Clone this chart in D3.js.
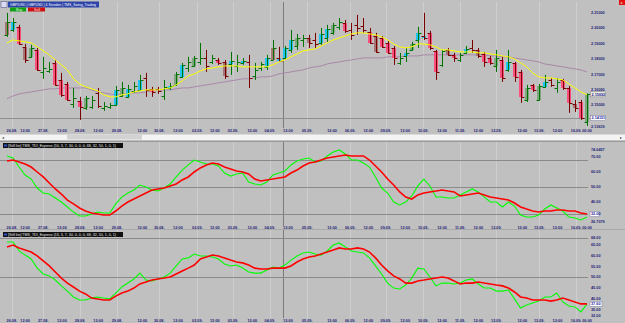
<!DOCTYPE html>
<html>
<head>
<meta charset="utf-8">
<script src="https://cdnjs.cloudflare.com/ajax/libs/d3/7.8.5/d3.min.js"></script>
<style>
  body { margin: 0; background: #c0c0c0; }
  #chartSvg { display: block; }
  text { font-family: "Liberation Sans", Arial, sans-serif; }
</style>
</head>
<body>
<svg id="chartSvg" width="625" height="323"></svg>
<script>
      // 4h bars, GBPUSD
      var opens = [2.1956,2.1988,2.2008,2.1878,2.1813,2.1858,2.1715,2.1722,2.1774,2.1663,
                   2.1637,2.1507,2.1527,2.1481,2.1488,2.1579,2.1481,2.1488,2.1501,2.1559,
                   2.1553,2.1592,2.1598,2.1676,2.1605,2.1605,2.1559,2.1611,2.1631,2.1683,
                   2.1741,2.1754,2.1780,2.1806,2.1780,2.1793,2.1780,2.1767,2.1754,2.1774,
                   2.1780,2.1689,2.1741,2.1748,2.1793,2.1806,2.1806,2.1858,2.1884,2.1923,
                   2.1936,2.1923,2.1904,2.1936,2.1969,2.2008,2.2034,2.1988,2.2021,2.2014,
                   2.1975,2.1949,2.1936,2.1904,2.1871,2.1774,2.1819,2.1858,2.1923,2.1949,
                   2.1969,2.1852,2.1761,2.1858,2.1826,2.1793,2.1839,2.1871,2.1858,2.1832,
                   2.1806,2.1754,2.1793,2.1728,2.1774,2.1715,2.1533,2.1631,2.1533,2.1618,
                   2.1663,2.1611,2.1663,2.1611,2.1507,2.1520,2.1390];
      var highs = [2.2099,2.2066,2.2021,2.1897,2.1891,2.1871,2.1813,2.1780,2.1793,2.1709,
                   2.1650,2.1611,2.1553,2.1559,2.1559,2.1611,2.1520,2.1514,2.1624,2.1650,
                   2.1631,2.1650,2.1696,2.1709,2.1618,2.1618,2.1663,2.1644,2.1715,2.1774,
                   2.1813,2.1819,2.1904,2.1858,2.1826,2.1806,2.1793,2.1845,2.1826,2.1806,
                   2.1826,2.1774,2.1780,2.1826,2.1923,2.1878,2.1884,2.1988,2.1962,2.1956,
                   2.1956,2.1969,2.2001,2.2021,2.2034,2.2066,2.2053,2.2034,2.2086,2.2066,
                   2.2001,2.1969,2.1949,2.1917,2.1884,2.1839,2.1871,2.1910,2.2008,2.2099,
                   2.1982,2.1858,2.1858,2.1871,2.1839,2.1839,2.1884,2.1923,2.1871,2.1845,
                   2.1819,2.1858,2.1813,2.1858,2.1780,2.1728,2.1631,2.1637,2.1637,2.1696,
                   2.1676,2.1676,2.1670,2.1624,2.1533,2.1533,2.1575];
      var lows = [2.1943,2.1975,2.1891,2.1774,2.1806,2.1722,2.1670,2.1709,2.1624,2.1553,
                  2.1527,2.1481,2.1403,2.1468,2.1475,2.1481,2.1462,2.1475,2.1494,2.1553,
                  2.1546,2.1579,2.1592,2.1553,2.1553,2.1572,2.1533,2.1598,2.1624,2.1676,
                  2.1715,2.1748,2.1761,2.1715,2.1767,2.1761,2.1670,2.1696,2.1715,2.1761,
                  2.1611,2.1663,2.1722,2.1728,2.1793,2.1780,2.1793,2.1839,2.1858,2.1878,
                  2.1871,2.1871,2.1891,2.1910,2.1956,2.1988,2.1969,2.1923,2.1956,2.1969,
                  2.1897,2.1839,2.1871,2.1832,2.1761,2.1761,2.1780,2.1852,2.1871,2.1923,
                  2.1858,2.1663,2.1748,2.1819,2.1780,2.1780,2.1832,2.1839,2.1806,2.1748,
                  2.1761,2.1715,2.1650,2.1715,2.1650,2.1514,2.1520,2.1585,2.1527,2.1611,
                  2.1618,2.1579,2.1598,2.1449,2.1455,2.1403,2.1364];
      var closes = [2.2040,2.2040,2.1897,2.1793,2.1871,2.1728,2.1741,2.1735,2.1631,2.1566,
                    2.1533,2.1546,2.1488,2.1546,2.1533,2.1494,2.1494,2.1501,2.1598,2.1611,
                    2.1605,2.1624,2.1663,2.1598,2.1585,2.1592,2.1618,2.1624,2.1702,2.1761,
                    2.1780,2.1806,2.1806,2.1754,2.1806,2.1774,2.1689,2.1787,2.1780,2.1787,
                    2.1676,2.1728,2.1767,2.1806,2.1871,2.1787,2.1871,2.1923,2.1936,2.1936,
                    2.1904,2.1897,2.1962,2.1995,2.2021,2.2040,2.1982,2.1956,2.2001,2.1988,
                    2.1904,2.1845,2.1878,2.1839,2.1806,2.1806,2.1839,2.1897,2.1969,2.1936,
                    2.1871,2.1715,2.1852,2.1826,2.1806,2.1826,2.1865,2.1858,2.1819,2.1780,
                    2.1774,2.1806,2.1676,2.1780,2.1683,2.1553,2.1611,2.1598,2.1624,2.1650,
                    2.1631,2.1650,2.1611,2.1514,2.1481,2.1416,2.1569];
      // body colour per bar: P pink, C cyan, G dull green, M dull red, - none
      var bodyTypes = ('MCPMGP--PP' + 'P-PG----CG' + 'C-C-P--CGC' + '-G---PMC-C' + '---CMCCCG-' +
                       'M-CCG-P---' + 'PMPPP-CGCC' + 'PP-MP-C-MP' + 'PGPCPPGPGC' + '--PPMPG').split('');

      var yellowMa = [2.1904,2.1923,2.1917,2.1910,2.1904,2.1878,2.1852,2.1826,2.1793,2.1761,
                      2.1728,2.1670,2.1637,2.1618,2.1605,2.1592,2.1566,2.1553,2.1553,2.1566,
                      2.1572,2.1585,2.1592,2.1598,2.1598,2.1598,2.1605,2.1611,2.1631,2.1657,
                      2.1689,2.1702,2.1722,2.1735,2.1741,2.1748,2.1754,2.1754,2.1754,2.1748,
                      2.1748,2.1748,2.1748,2.1748,2.1761,2.1780,2.1793,2.1813,2.1832,2.1852,
                      2.1858,2.1865,2.1884,2.1904,2.1923,2.1936,2.1949,2.1962,2.1969,2.1969,
                      2.1962,2.1956,2.1943,2.1923,2.1897,2.1878,2.1871,2.1878,2.1897,2.1897,
                      2.1891,2.1878,2.1858,2.1858,2.1852,2.1845,2.1845,2.1845,2.1839,2.1839,
                      2.1832,2.1826,2.1819,2.1813,2.1800,2.1774,2.1748,2.1709,2.1683,2.1676,
                      2.1676,2.1670,2.1663,2.1637,2.1611,2.1585,2.1566];
      var purpleMa = [2.1540,2.1559,2.1572,2.1579,2.1585,2.1592,2.1598,2.1605,2.1605,2.1611,
                      2.1611,2.1611,2.1611,2.1611,2.1598,2.1585,2.1579,2.1572,2.1566,2.1572,
                      2.1572,2.1579,2.1579,2.1585,2.1592,2.1592,2.1598,2.1598,2.1605,2.1611,
                      2.1611,2.1618,2.1624,2.1631,2.1637,2.1644,2.1650,2.1657,2.1663,2.1670,
                      2.1670,2.1676,2.1683,2.1683,2.1689,2.1702,2.1709,2.1715,2.1722,2.1728,
                      2.1741,2.1748,2.1754,2.1767,2.1774,2.1780,2.1787,2.1793,2.1800,2.1806,
                      2.1806,2.1806,2.1806,2.1813,2.1813,2.1813,2.1819,2.1819,2.1819,2.1826,
                      2.1826,2.1826,2.1826,2.1826,2.1826,2.1826,2.1826,2.1826,2.1826,2.1826,
                      2.1819,2.1819,2.1813,2.1813,2.1806,2.1800,2.1793,2.1787,2.1780,2.1767,
                      2.1761,2.1754,2.1748,2.1741,2.1735,2.1728,2.1715];

      // TDI panel 1 (10,3,7,34)
      var tdiGreenA = [70.7,69.3,63.3,58,55.3,49.3,46,45.3,42.7,40,
                       36.7,33.3,30.7,30.7,32,33.3,32.7,32.7,38.7,43.3,
                       46,48,51.3,50,48,47.3,49.3,52,56.7,61.3,
                       64.7,68,66.7,65.3,65.3,64,59.3,57.3,58.7,59.3,
                       53.3,52,51.3,53.3,58,59.3,60.7,64.7,67.3,68.7,
                       69.3,66.7,67.3,70.7,73.3,74.7,72,68,68,66,
                       63.3,56.7,49.3,46,40,38,40,44,50.7,55.3,
                       50.7,43.3,43.3,42.7,42.7,44.7,46.7,48.7,46.7,43.3,
                       40,40,36.7,40,37.3,31.3,30,30,31.3,35.3,
                       38,36,34,30,29.3,28,30];
      var tdiRedA = [67.3,68,66.7,65.3,63.3,60,56.7,52.7,48.7,45.3,
                     41.3,38.7,36,34,32.7,32,31.3,31.3,34,37.3,
                     40,42,44,46,48,48.7,49.3,50.7,52,54.7,
                     56.7,60,62.7,64.7,66,65.3,63.3,62,60.7,60,
                     58.7,55.3,54,54.7,55.3,56,56.7,59.3,61.3,64,
                     66,66.7,68,69.3,70,70.7,71.3,70.7,70.7,70.7,
                     68,64,60,55.3,51.3,46.7,43.3,42,44.7,46,
                     46.7,47.3,48,47.3,46.7,44,44.7,45.3,46,44.7,
                     43.3,42.7,42,41.3,39.3,36.7,35.3,34,33.3,34,
                     34,34.7,34.7,34,34,32.7,32];
      // TDI panel 2 (13,3,7,34)
      var tdiGreenB = [66.1,66.1,62,60.1,58.3,54.1,51.4,50.5,48.6,45.9,
                       43.5,40.8,39.4,39.4,40.3,40.8,40.3,39.9,42.6,45.4,
                       47.2,49.1,51.8,48.6,48.2,49.1,50,51.8,55.1,58.3,
                       58.8,60.6,59.7,59.7,59.2,58.3,56,55.1,55.5,54.1,
                       52.3,51.8,51.8,53.2,54.6,54.1,55.5,57.8,59.7,61.1,
                       61.5,60.6,60.1,62,64.7,65.7,63.8,62,61.5,61.1,
                       58.8,55.1,51.4,47.2,44.9,44.5,46.3,49.5,54.1,53.7,
                       50,45.9,47.2,47.2,46.8,47.2,48.6,49.1,46.8,44.9,
                       44.9,43.5,43.5,44,39.9,35.7,37.1,38,38.9,40.8,
                       40.8,42.6,38.5,36.6,36.2,33.9,37.6];
      var tdiRedB = [63.8,64.7,63.4,62.4,61.5,59.7,57.4,55.1,52.3,49.5,
                     47.2,45.4,43.5,42.2,40.3,39.9,39.4,39.4,41.2,42.6,
                     43.5,44.9,46.8,47.7,48.6,49.1,49.5,50,51.4,52.8,
                     54.1,55.5,58.3,59.2,60.1,59.7,58.8,57.8,56.9,56.5,
                     55.5,54.1,53.7,53.7,54.1,54.1,54.1,55.1,56.9,58.3,
                     59.2,59.7,60.6,61.5,62.4,63.4,62.9,62.9,63.4,62.9,
                     61.5,58.8,55.5,52.8,50.5,49.1,47.2,47.2,48.2,48.6,
                     49.1,49.5,50,49.5,48.2,46.8,47.2,47.2,47.7,47.2,
                     46.8,46.3,45.9,44.9,43.1,40.8,40.3,39.4,39.4,39.4,
                     38.9,39.4,40.3,39.4,38.5,37.6,37.6];

      // time axis (bar position of each label)
      var timeTickIdx = [0.8,3,6,9.1,12.1,15.1,18.2,22.4,25.2,28.3,31.5,34.4,37.4,40.6,43.5,46.5,
                         49.7,53.8,56.8,59.8,62.7,65.9,68.9,72,75,78,81,85.3,88.1,91.1,94.2,96];
      var timeTickLabels = ['26.08.','12:00','27.08.','12:00','28.08.','12:00','29.08.','12:00','30.08.','12:00',
                            '02.09.','12:00','03.09.','12:00','04.09.','12:00','05.09.','12:00','06.09.','12:00',
                            '09.09.','12:00','10.09.','12:00','11.09.','12:00','12.09.','12:00','13.09.','12:00',
                            '16.09.','00:00'];
      var cursorIdx = 45.6;

      var priceTicks = [2.21, 2.20, 2.19, 2.18, 2.17, 2.16, 2.15];
      var priceLow = 2.13619;
      var lastPrice = 2.15692;
      var hLinePrice = 2.14151;

      var tdiTicksA = [70, 60, 50, 40];
      var tdiMaxA = 74.6457, tdiMinA = 26.7079;
      var tdiLevelsA = [68, 50, 32];
      var tdiTicksB = [68, 65, 60, 55, 50, 45, 40, 35, 32];
      var tdiLevelsB = [68, 50];

      var bodyColors = { P: '#ff4f7e', C: '#1ec3f0', G: '#7fa77f', M: '#a57676' };
      var labelBlue = '#1e1e78';

      var svg = d3.select('#chartSvg');
      var width = 625, height = 323;

      var xScale = d3.scaleLinear().domain([0, closes.length - 1]).range([7, 587]);
      var yPrice = d3.scaleLinear().domain([2.15, 2.21]).range([105, 12.7]);
      var yTdiA = d3.scaleLinear().domain([30, 70]).range([217, 157]);
      var yTdiB = d3.scaleLinear().domain([40, 60]).range([298.7, 255.3]);

      function px(v) { return Math.round(v) + 0.5; }

      svg.append('rect').attr('width', width).attr('height', height).attr('fill', '#c0c0c0');

      var defs = svg.append('defs');
      defs.append('clipPath').attr('id', 'clipPrice')
          .append('rect').attr('x', 0).attr('y', 2).attr('width', 590).attr('height', 126);

      // vertical day lines + cursor in every panel
      var panelSpans = [[2, 128], [142, 226], [230, 318]];
      var dayIdx = timeTickIdx.filter(function(d, i) { return timeTickLabels[i].indexOf('.') > 0; });
      panelSpans.forEach(function(s) {
        svg.append('g').selectAll('line')
           .data(dayIdx)
           .enter()
           .append('line')
           .attr('x1', d => px(xScale(d))).attr('x2', d => px(xScale(d)))
           .attr('y1', s[0]).attr('y2', s[1])
           .attr('stroke', '#cecece');
        svg.append('line')
           .attr('x1', px(xScale(cursorIdx))).attr('x2', px(xScale(cursorIdx)))
           .attr('y1', s[0]).attr('y2', s[1])
           .attr('stroke', '#7c7c7c');
      });

      //---------------- price panel
      var p1 = svg.append('g').attr('clip-path', 'url(#clipPrice)');

      p1.append('line')
        .attr('x1', 0).attr('x2', 590)
        .attr('y1', px(yPrice(hLinePrice))).attr('y2', px(yPrice(hLinePrice)))
        .attr('stroke', '#8e8e8e');

      var maLine = function(vals) {
        return d3.line().x((d, i) => xScale(i)).y(d => yPrice(d))(vals);
      };
      p1.append('path').attr('d', maLine(purpleMa))
        .attr('fill', 'none').attr('stroke', '#a888a8').attr('stroke-width', 1);

      var bars = d3.range(closes.length).map(function(i) {
        return { i: i, o: opens[i], h: highs[i], l: lows[i], c: closes[i], t: bodyTypes[i] };
      });
      var barColor = d => d.c >= d.o ? '#007400' : '#7a0000';

      p1.selectAll('rect.body')
        .data(bars.filter(d => d.t !== '-'))
        .enter()
        .append('rect')
        .attr('class', 'body')
        .attr('x', d => Math.round(xScale(d.i)) - 2)
        .attr('width', 4)
        .attr('y', d => Math.round(Math.min(yPrice(d.o), yPrice(d.c))))
        .attr('height', d => Math.max(1, Math.round(Math.abs(yPrice(d.o) - yPrice(d.c)))))
        .attr('fill', d => bodyColors[d.t]);

      p1.selectAll('line.hl')
        .data(bars)
        .enter()
        .append('line')
        .attr('class', 'hl')
        .attr('x1', d => px(xScale(d.i))).attr('x2', d => px(xScale(d.i)))
        .attr('y1', d => yPrice(d.h)).attr('y2', d => yPrice(d.l))
        .attr('stroke', barColor);
      p1.selectAll('line.op')
        .data(bars)
        .enter()
        .append('line')
        .attr('x1', d => Math.round(xScale(d.i)) - 2.5).attr('x2', d => Math.round(xScale(d.i)) + 0.5)
        .attr('y1', d => px(yPrice(d.o))).attr('y2', d => px(yPrice(d.o)))
        .attr('stroke', barColor);
      p1.selectAll('line.cl')
        .data(bars)
        .enter()
        .append('line')
        .attr('x1', d => Math.round(xScale(d.i)) + 0.5).attr('x2', d => Math.round(xScale(d.i)) + 3.5)
        .attr('y1', d => px(yPrice(d.c))).attr('y2', d => px(yPrice(d.c)))
        .attr('stroke', barColor);

      p1.append('path').attr('d', maLine(yellowMa))
        .attr('fill', 'none').attr('stroke', '#ffff00').attr('stroke-width', 1);

      // price labels
      svg.append('g').selectAll('text')
         .data(priceTicks.concat([priceLow]))
         .enter()
         .append('text')
         .attr('x', 591)
         .attr('y', d => yPrice(d) + 1.4)
         .attr('font-size', 3.8).attr('font-weight', 'bold')
         .attr('fill', labelBlue)
         .text(d => d.toFixed(5));

      function valueBox(x, y, w, txt, fill) {
        svg.append('rect').attr('x', x).attr('y', y - 2.5).attr('width', w).attr('height', 5)
           .attr('fill', fill).attr('stroke', '#7a7a9a').attr('stroke-width', 0.5);
        svg.append('text').attr('x', x + 1).attr('y', y + 1.4)
           .attr('font-size', 3.8).attr('font-weight', 'bold').attr('fill', '#2020a0').text(txt);
      }
      valueBox(590.5, yPrice(lastPrice), 15, lastPrice.toFixed(5), '#f4f4dc');
      valueBox(590.5, yPrice(hLinePrice), 15, hLinePrice.toFixed(5), '#ffffff');

      // time labels
      function timeAxis(yBase) {
        svg.append('g').selectAll('text')
           .data(timeTickIdx)
           .enter()
           .append('text')
           .attr('x', d => xScale(d))
           .attr('y', yBase)
           .attr('text-anchor', 'middle')
           .attr('font-size', 3.8).attr('font-weight', 'bold')
           .attr('fill', labelBlue)
           .text((d, i) => timeTickLabels[i]);
      }
      timeAxis(131.8);

      // title bar + buttons
      svg.append('rect').attr('x', 1).attr('y', 1.5).attr('width', 6).attr('height', 6).attr('fill', '#dcdcf0').attr('stroke', '#404080').attr('stroke-width', 0.5);
      svg.append('rect').attr('x', 8).attr('y', 1.5).attr('width', 91).attr('height', 6).attr('fill', '#2c44a8');
      svg.append('text').attr('x', 10).attr('y', 5.9).attr('font-size', 3.5).attr('fill', '#ffffff')
         .attr('textLength', 86).attr('lengthAdjust', 'spacingAndGlyphs')
         .text('GBP/USD | GBPUSD | 4 Stunden | TMS_Swing_Trading');
      svg.append('rect').attr('x', 10).attr('y', 7.5).attr('width', 16).attr('height', 4).attr('fill', '#10a010');
      svg.append('text').attr('x', 16).attr('y', 10.8).attr('font-size', 3.6).attr('fill', '#e0ffe0').text('Buy');
      svg.append('rect').attr('x', 28).attr('y', 7.5).attr('width', 17).attr('height', 4).attr('fill', '#d01010');
      svg.append('text').attr('x', 34).attr('y', 10.8).attr('font-size', 3.6).attr('fill', '#ffe0e0').text('Sell');
      svg.append('rect').attr('x', 619).attr('y', 0).attr('width', 6).attr('height', 5).attr('fill', '#e01010');
      svg.append('text').attr('x', 620.5).attr('y', 4).attr('font-size', 4).attr('fill', '#ffffff').text('x');

      // scrollbar under the price panel
      svg.append('rect').attr('x', 0).attr('y', 134.5).attr('width', width).attr('height', 5.5).attr('fill', '#f4f4f4');
      svg.append('rect').attr('x', 67).attr('y', 135).attr('width', 75).attr('height', 4.5).attr('fill', '#d2d2d2');
      svg.append('text').attr('x', 1.5).attr('y', 138.8).attr('font-size', 4).attr('fill', '#404040').text('\u25C2');
      svg.append('text').attr('x', 620).attr('y', 138.8).attr('font-size', 4).attr('fill', '#404040').text('\u25B8');
      svg.append('line').attr('x1', 0).attr('x2', width).attr('y1', 141.5).attr('y2', 141.5).attr('stroke', '#9a9a9a');
      svg.append('line').attr('x1', 0).attr('x2', width).attr('y1', 229.5).attr('y2', 229.5).attr('stroke', '#aaaaaa');

      //---------------- TDI panels
      function drawTdi(yScale, greenVals, redVals, levels) {
        var g = svg.append('g');
        g.selectAll('line')
         .data(levels)
         .enter()
         .append('line')
         .attr('x1', 0).attr('x2', 588)
         .attr('y1', d => px(yScale(d))).attr('y2', d => px(yScale(d)))
         .attr('stroke', '#8a8a8a');
        var line = d3.line().x((d, i) => xScale(i)).y(d => yScale(d));
        g.append('path').datum(greenVals).attr('d', line)
         .attr('fill', 'none').attr('stroke', '#00ff00').attr('stroke-width', 1.1);
        g.append('path').datum(redVals).attr('d', line)
         .attr('fill', 'none').attr('stroke', '#ff0000').attr('stroke-width', 1.6);
      }
      drawTdi(yTdiA, tdiGreenA, tdiRedA, tdiLevelsA);
      drawTdi(yTdiB, tdiGreenB, tdiRedB, tdiLevelsB);

      function header(y, txt) {
        svg.append('rect').attr('x', 3).attr('y', y).attr('width', 120).attr('height', 5).attr('fill', '#101010');
        svg.append('rect').attr('x', 4).attr('y', y + 1.5).attr('width', 3).attr('height', 2).attr('fill', '#3050d0');
        svg.append('text').attr('x', 8).attr('y', y + 3.8).attr('font-size', 3.6).attr('fill', '#e8e8e8').text(txt);
      }
      header(143, '[Still lite] TMS_TDI_Express (10, 3, 7, 34, 0, 0, 0, 68, 32, 50, 1, 0, 1)');
      header(232, '[Still lite] TMS_TDI_Express (13, 3, 7, 34, 0, 0, 0, 68, 32, 50, 1, 0, 1)');

      function valueLabels(yScale, vals, digits) {
        svg.append('g').selectAll('text')
           .data(vals)
           .enter()
           .append('text')
           .attr('x', 591)
           .attr('y', d => yScale(d) + 1.4)
           .attr('font-size', 3.8).attr('font-weight', 'bold')
           .attr('fill', labelBlue)
           .text(d => d.toFixed(digits));
      }
      valueLabels(yTdiA, tdiTicksA, 2);
      valueLabels(yTdiA, [tdiMaxA, tdiMinA], 4);
      valueLabels(yTdiB, tdiTicksB, 2);
      valueBox(590, yTdiA(tdiRedA[tdiRedA.length - 1]), 9, tdiRedA[tdiRedA.length - 1].toFixed(2), '#ffffff');
      valueBox(590, yTdiB(tdiRedB[tdiRedB.length - 1]), 12, tdiRedB[tdiRedB.length - 1].toFixed(2), '#ffffff');

      timeAxis(228.8);
      timeAxis(321.8);
</script>
</body>
</html>
